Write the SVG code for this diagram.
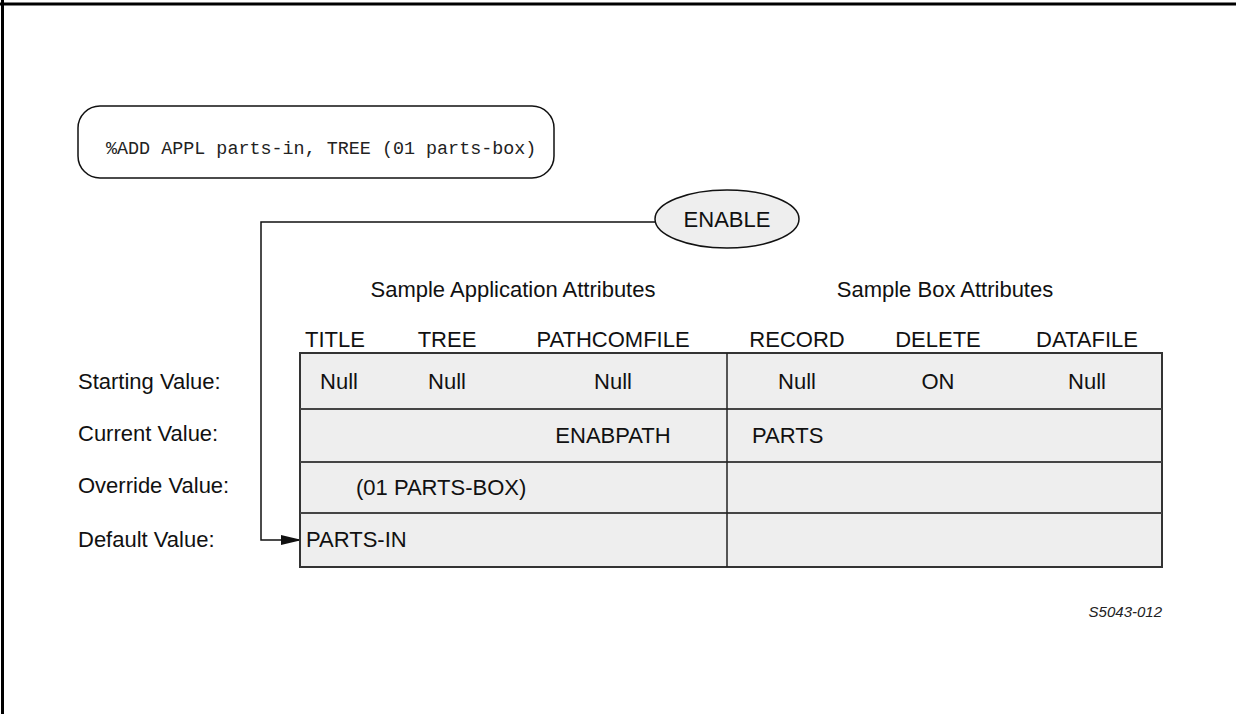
<svg xmlns="http://www.w3.org/2000/svg" width="1236" height="714" viewBox="0 0 1236 714">
<style>
.t{font-family:"Liberation Sans",Arial,sans-serif;font-size:22px;fill:#111}
.m{font-family:"Liberation Mono","Courier New",monospace;font-size:18.4px;fill:#222}
.c{text-anchor:middle}
.cell{fill:#eeeeee;stroke:#333;stroke-width:2}
.rl{stroke:#444;stroke-width:2}
.ln{fill:none;stroke:#111;stroke-width:1.5}
</style>
<defs>
<marker id="ah" markerWidth="22" markerHeight="12" refX="21" refY="6" orient="auto" markerUnits="userSpaceOnUse">
<path d="M0,1 L21,6 L0,11 Z" fill="#111"/>
</marker>
</defs>
<rect width="1236" height="714" fill="#fff"/>
<g id="frame">
<line x1="0" y1="4" x2="1236" y2="4" stroke="#000" stroke-width="3"/>
<line x1="2.5" y1="0" x2="2.5" y2="714" stroke="#000" stroke-width="3"/>
</g>
<g id="command">
<rect x="78" y="106" width="476" height="72" rx="22" ry="22" fill="#fff" stroke="#111" stroke-width="1.5"/>
<text class="m" x="106" y="154">%ADD APPL parts-in, TREE (01 parts-box)</text>
</g>
<g id="connectors">
<path class="ln" d="M655,222 H261 V540 H302" marker-end="url(#ah)"/>
</g>
<g id="enable">
<ellipse cx="727" cy="219" rx="72" ry="29" fill="#eeeeee" stroke="#111" stroke-width="1.5"/>
<text class="t c" x="727" y="227">ENABLE</text>
</g>
<g id="headers">
<text class="t c" x="513" y="297">Sample Application Attributes</text>
<text class="t c" x="945" y="297">Sample Box Attributes</text>
<text class="t c" x="335" y="347">TITLE</text>
<text class="t c" x="447" y="347">TREE</text>
<text class="t c" x="613" y="347">PATHCOMFILE</text>
<text class="t c" x="797" y="347">RECORD</text>
<text class="t c" x="938" y="347">DELETE</text>
<text class="t c" x="1087" y="347">DATAFILE</text>
</g>
<g id="row-labels">
<text class="t" x="78" y="389">Starting Value:</text>
<text class="t" x="78" y="441">Current Value:</text>
<text class="t" x="78" y="493">Override Value:</text>
<text class="t" x="78" y="547">Default Value:</text>
</g>
<g id="table">
<rect class="cell" x="300" y="353" width="862" height="214"/>
<line class="rl" x1="300" y1="409" x2="1162" y2="409"/>
<line class="rl" x1="300" y1="462" x2="1162" y2="462"/>
<line class="rl" x1="300" y1="513" x2="1162" y2="513"/>
<line x1="727" y1="353" x2="727" y2="567" stroke="#222" stroke-width="1.5"/>
</g>
<g id="values">
<text class="t c" x="339" y="389">Null</text>
<text class="t c" x="447" y="389">Null</text>
<text class="t c" x="613" y="389">Null</text>
<text class="t c" x="797" y="389">Null</text>
<text class="t c" x="938" y="389">ON</text>
<text class="t c" x="1087" y="389">Null</text>
<text class="t c" x="613" y="443">ENABPATH</text>
<text class="t" x="752" y="443">PARTS</text>
<text class="t" x="356" y="495">(01 PARTS-BOX)</text>
<text class="t" x="306" y="547">PARTS-IN</text>
</g>
<g id="figure-id">
<text x="1162" y="617" text-anchor="end" style="font-family:'Liberation Sans',Arial,sans-serif;font-size:15px;font-style:italic;fill:#222">S5043-012</text>
</g>
</svg>
